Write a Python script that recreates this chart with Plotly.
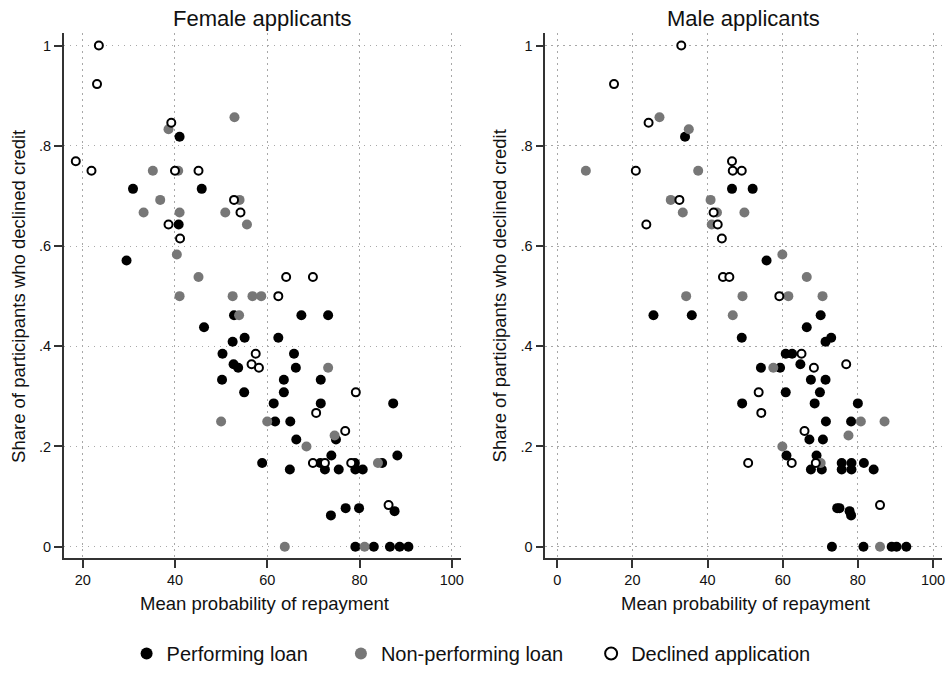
import plotly.graph_objects as go

# ---------------------------------------------------------------
# Data: mean probability of repayment (x) vs. share of participants
# who declined credit (y), by applicant gender and loan outcome.
# ---------------------------------------------------------------

# Female applicants
female_perf_x = [41.0, 30.9, 45.8, 40.8, 29.5, 52.8, 46.3, 55.1, 52.5, 50.3, 52.7, 53.7,
                 67.4, 73.2, 62.4, 65.8, 66.2, 63.6, 71.6, 50.2, 55.0, 63.6, 61.4, 71.6,
                 87.3, 61.7, 65.0, 66.3, 74.9, 58.9, 64.9, 71.5, 73.9, 72.5, 75.5, 79.0,
                 79.1, 80.7, 84.9, 88.2, 73.8, 77.0, 79.9, 87.6, 79.1, 83.1, 86.6, 88.7, 90.6]
female_perf_y = [0.818, 0.714, 0.714, 0.643, 0.571, 0.462, 0.438, 0.417, 0.409, 0.385, 0.364, 0.357,
                 0.462, 0.462, 0.417, 0.385, 0.357, 0.333, 0.333, 0.333, 0.308, 0.308, 0.286, 0.286,
                 0.286, 0.25, 0.25, 0.214, 0.214, 0.167, 0.154, 0.167, 0.182, 0.154, 0.154, 0.167,
                 0.154, 0.154, 0.167, 0.182, 0.0625, 0.077, 0.077, 0.071, 0.0, 0.0, 0.0, 0.0, 0.0]

female_nonperf_x = [38.6, 52.9, 35.2, 40.7, 36.8, 54.0, 33.2, 41.0, 50.9, 55.6, 40.4, 45.1, 41.0,
                    52.5, 56.8, 58.7, 53.9, 73.2, 60.0, 50.0, 74.6, 68.5, 84.0, 63.8, 81.1]
female_nonperf_y = [0.833, 0.857, 0.75, 0.75, 0.692, 0.692, 0.667, 0.667, 0.667, 0.643, 0.583, 0.538, 0.5,
                    0.5, 0.5, 0.5, 0.462, 0.357, 0.25, 0.25, 0.222, 0.2, 0.167, 0.0, 0.0]

female_decl_x = [23.5, 23.1, 39.2, 18.5, 21.9, 40.0, 45.1, 52.8, 54.2, 38.6, 41.1, 64.1, 69.9,
                 62.4, 57.5, 56.6, 58.2, 79.2, 70.6, 76.9, 69.9, 72.5, 78.2, 86.3]
female_decl_y = [1.0, 0.923, 0.846, 0.769, 0.75, 0.75, 0.75, 0.692, 0.667, 0.643, 0.615, 0.538, 0.538,
                 0.5, 0.385, 0.364, 0.357, 0.308, 0.267, 0.231, 0.167, 0.167, 0.167, 0.083]

# Male applicants
male_perf_x = [34.0, 46.5, 52.0, 55.7, 25.6, 35.8, 70.1, 66.4, 49.1, 71.4, 72.9, 60.8, 62.5,
               64.7, 54.2, 59.3, 67.5, 71.4, 60.8, 69.9, 49.2, 68.5, 80.0, 71.5, 78.2, 67.1,
               70.7, 61.0, 69.0, 67.5, 70.4, 75.7, 75.7, 78.3, 78.3, 81.6, 84.2, 74.5, 75.1,
               77.8, 78.2, 73.1, 81.5, 89.0, 90.3, 92.9]
male_perf_y = [0.818, 0.714, 0.714, 0.571, 0.462, 0.462, 0.462, 0.438, 0.417, 0.409, 0.417, 0.385, 0.385,
               0.364, 0.357, 0.357, 0.333, 0.333, 0.308, 0.308, 0.286, 0.286, 0.286, 0.25, 0.25, 0.214,
               0.214, 0.182, 0.182, 0.154, 0.154, 0.167, 0.154, 0.167, 0.154, 0.167, 0.154, 0.077, 0.077,
               0.071, 0.0625, 0.0, 0.0, 0.0, 0.0, 0.0]

male_nonperf_x = [27.2, 35.0, 7.6, 37.5, 30.2, 40.8, 33.4, 42.5, 49.8, 41.1, 59.9, 66.4, 34.3,
                  49.3, 61.5, 70.6, 46.7, 57.5, 80.8, 87.1, 77.5, 59.9, 70.1, 85.9]
male_nonperf_y = [0.857, 0.833, 0.75, 0.75, 0.692, 0.692, 0.667, 0.667, 0.667, 0.643, 0.583, 0.538, 0.5,
                  0.5, 0.5, 0.5, 0.462, 0.357, 0.25, 0.25, 0.222, 0.2, 0.167, 0.0]

male_decl_x = [33.0, 15.1, 24.3, 20.9, 46.5, 46.7, 49.1, 32.5, 41.6, 23.7, 42.7, 43.8, 44.1,
               45.8, 59.1, 65.0, 68.3, 76.9, 53.6, 54.3, 65.8, 50.8, 62.4, 68.8, 85.9]
male_decl_y = [1.0, 0.923, 0.846, 0.75, 0.769, 0.75, 0.75, 0.692, 0.667, 0.643, 0.643, 0.615, 0.538,
               0.538, 0.5, 0.385, 0.357, 0.364, 0.308, 0.267, 0.231, 0.167, 0.167, 0.167, 0.083]

# Axis ticks
y_tick_vals = [0, 0.2, 0.4, 0.6, 0.8, 1.0]
y_tick_text = ["0", ".2", ".4", ".6", ".8", "1"]
female_x_ticks = [20, 40, 60, 80, 100]
male_x_ticks = [0, 20, 40, 60, 80, 100]

series_names = ["Performing loan", "Non-performing loan", "Declined application"]
panel_titles = ["Female applicants", "Male applicants"]
x_title = "Mean probability of repayment"
y_title = "Share of participants who declined credit"

FONT = "Liberation Sans, Arial, sans-serif"
BLACK = "#000000"
GREY = "#777777"

W, H = 950, 673


def px(v):
    return v / W


def py(v):
    return (H - v) / H


fig = go.Figure()

panels = [
    ("x", "y", female_perf_x, female_perf_y, female_nonperf_x, female_nonperf_y,
     female_decl_x, female_decl_y, True),
    ("x2", "y2", male_perf_x, male_perf_y, male_nonperf_x, male_nonperf_y,
     male_decl_x, male_decl_y, False),
]

legend_ids = ["legend", "legend2", "legend3"]

for xa, ya, pxs, pys, nxs, nys, dxs, dys, show in panels:
    fig.add_trace(go.Scatter(
        x=pxs, y=pys, mode="markers", name=series_names[0], xaxis=xa, yaxis=ya,
        marker=dict(symbol="circle", size=10, color=BLACK, line=dict(width=0)),
        showlegend=show, legend=legend_ids[0]))
    fig.add_trace(go.Scatter(
        x=nxs, y=nys, mode="markers", name=series_names[1], xaxis=xa, yaxis=ya,
        marker=dict(symbol="circle", size=10, color=GREY, line=dict(width=0)),
        showlegend=show, legend=legend_ids[1]))
    fig.add_trace(go.Scatter(
        x=dxs, y=dys, mode="markers", name=series_names[2], xaxis=xa, yaxis=ya,
        marker=dict(symbol="circle", size=8, color="#ffffff", line=dict(width=2, color=BLACK)),
        showlegend=show, legend=legend_ids[2]))

axis_common = dict(
    showline=True, linecolor="#333333", linewidth=1.5,
    ticks="outside", ticklen=8, tickwidth=1.5, tickcolor="#333333",
    showgrid=True, gridcolor="#a8a8a8", gridwidth=1, griddash="1.5px,4.5px",
    zeroline=False, tickfont=dict(family=FONT, size=14.5, color="#111111"),
    mirror=False,
)

y_dom = [py(558), py(33)]

fig.update_layout(
    width=W, height=H,
    margin=dict(l=0, r=0, t=0, b=0),
    paper_bgcolor="#ffffff", plot_bgcolor="#ffffff",
    font=dict(family=FONT, color="#111111"),
    xaxis=dict(domain=[px(64), px(462)], range=[15.9, 101.9],
               tickvals=female_x_ticks, anchor="y", **axis_common),
    yaxis=dict(domain=y_dom, range=[-0.0225, 1.025], anchor="x",
               tickvals=y_tick_vals, ticktext=y_tick_text, **axis_common),
    xaxis2=dict(domain=[px(547), px(945)], range=[-3.2, 102.4],
                tickvals=male_x_ticks, anchor="y2", **axis_common),
    yaxis2=dict(domain=y_dom, range=[-0.0225, 1.025], anchor="x2",
                tickvals=y_tick_vals, ticktext=y_tick_text, **axis_common),
)

# Legend boxes sit flush with the bottom edge so they never push the margins.
legend_x = [127, 342, 593]
for lid, lx in zip(legend_ids, legend_x):
    fig.update_layout({lid: dict(
        orientation="h", x=px(lx), xanchor="left", y=0, yanchor="bottom",
        font=dict(family=FONT, size=20, color="#111111"),
        bgcolor="rgba(0,0,0,0)", borderwidth=0, itemsizing="constant",
    )})

annotations = [
    dict(text=panel_titles[0], x=px(263), y=py(18), showarrow=False,
         font=dict(family=FONT, size=22, color="#111111"), xanchor="center", yanchor="middle"),
    dict(text=panel_titles[1], x=px(746), y=py(18), showarrow=False,
         font=dict(family=FONT, size=22, color="#111111"), xanchor="center", yanchor="middle"),
    dict(text=x_title, x=px(265), y=py(603), showarrow=False,
         font=dict(family=FONT, size=18.5, color="#111111"), xanchor="center", yanchor="middle"),
    dict(text=x_title, x=px(748), y=py(603), showarrow=False,
         font=dict(family=FONT, size=18.5, color="#111111"), xanchor="center", yanchor="middle"),
    dict(text=y_title, x=px(18), y=py(296), showarrow=False, textangle=-90,
         font=dict(family=FONT, size=18.5, color="#111111"), xanchor="center", yanchor="middle"),
    dict(text=y_title, x=px(501), y=py(296), showarrow=False, textangle=-90,
         font=dict(family=FONT, size=18.5, color="#111111"), xanchor="center", yanchor="middle"),
]
for a in annotations:
    a.update(xref="paper", yref="paper")
fig.update_layout(annotations=annotations)

fig.write_html("out.html")
